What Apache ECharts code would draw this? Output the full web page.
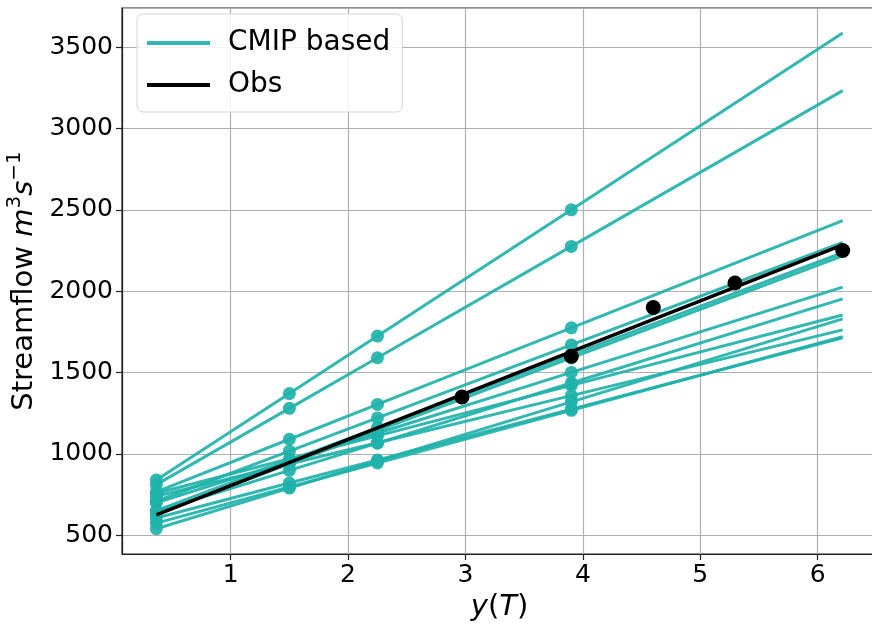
<!DOCTYPE html>
<html>
<head>
<meta charset="utf-8">
<script src="https://cdn.jsdelivr.net/npm/echarts@6/dist/echarts.min.js"></script>
<style>
html, body { margin: 0; padding: 0; background: #fff; }
#chart { width: 872px; height: 624px; }
</style>
</head>
<body>
<div id="chart"></div>
<script>
// reduced variate y(T) for T = 2, 5, 10, 50, 500
var xReturn = [0.3665, 1.4999, 2.2504, 3.9019, 6.2136];
// streamflow of each CMIP based fit at those x
var cmipLines = [
    [839, 1371, 1724, 2500, 3586],
    [811, 1280, 1591, 2275, 3232],
    [767, 1090, 1304, 1775, 2434],
    [709, 1017, 1221, 1670, 2299],
    [651, 958, 1162, 1609, 2236],
    [632, 939, 1143, 1590, 2217],
    [700, 957, 1127, 1501, 2025],
    [645, 899, 1066, 1436, 1953],
    [758, 970, 1111, 1421, 1854],
    [575, 797, 944, 1268, 1721],
    [740, 938, 1069, 1358, 1762],
    [606, 821, 963, 1275, 1713],
    [540, 790, 956, 1320, 1830]
];
// observed fit line end points and observed points
var obsLineX = [0.3665, 6.2136];
var obsLineY = [625, 2285];
var obsX = [2.9702, 3.9019, 4.6001, 5.2958, 6.2136];
var obsY = [1350, 1600, 1900, 2050, 2250];

var teal = 'rgba(32,178,170,0.92)';
var font = 'DejaVu Sans';

var dom = document.getElementById('chart');
var myChart = echarts.init(dom);
var option = null;

var series = [];
cmipLines.forEach(function (vals) {
    series.push({
        name: 'CMIP based',
        type: 'line',
        color: teal,
        lineStyle: { width: 3, color: teal },
        itemStyle: { color: teal },
        symbol: 'circle',
        symbolSize: 13,
        animation: false,
        z: 2,
        data: vals.map(function (v, i) {
            // no marker on the T=500 end
            if (i === xReturn.length - 1) return { value: [xReturn[i], v], symbol: 'none' };
            return [xReturn[i], v];
        })
    });
});
series.push({
    name: 'Obs',
    type: 'line',
    color: '#000',
    lineStyle: { width: 3.5, color: '#000' },
    showSymbol: false,
    symbol: 'none',
    animation: false,
    z: 3,
    data: obsLineX.map(function (x, i) { return [x, obsLineY[i]]; })
});
series.push({
    name: 'Obs points',
    type: 'scatter',
    symbolSize: 15,
    itemStyle: { color: '#000', opacity: 1 },
    animation: false,
    z: 4,
    data: obsX.map(function (x, i) { return [x, obsY[i]]; })
});

option = {
    backgroundColor: '#fff',
    textStyle: { fontFamily: font },
    grid: {
        left: 122,
        top: 8,
        right: -5,
        bottom: 70,
        outerBoundsMode: 'none',
        containLabel: false,
        show: true,
        borderColor: '#222',
        borderWidth: 1.2
    },
    legend: {
        data: ['CMIP based', 'Obs'],
        orient: 'vertical',
        left: 137,
        top: 14,
        icon: 'rect',
        itemWidth: 63,
        itemHeight: 4,
        itemGap: 14,
        padding: [15, 12, 13, 10],
        backgroundColor: 'rgba(255,255,255,0.85)',
        borderColor: '#d5d5d5',
        borderWidth: 1,
        borderRadius: 6,
        textStyle: { fontFamily: font, fontSize: 28, color: '#000', padding: [0, 0, 0, 13] }
    },
    xAxis: {
        type: 'value',
        min: 0.074,
        max: 6.506,
        name: '{i|y}{n|(}{i|T}{n|)}',
        nameLocation: 'middle',
        nameGap: 38,
        nameTextStyle: {
            rich: {
                i: { fontFamily: font, fontSize: 29, fontStyle: 'italic', color: '#000' },
                n: { fontFamily: font, fontSize: 29, color: '#000' }
            }
        },
        axisLine: { show: true, lineStyle: { color: '#222', width: 1.2 } },
        axisTick: { show: true, length: 6, lineStyle: { color: '#222', width: 1.2 } },
        axisLabel: {
            fontFamily: font, fontSize: 25, color: '#000', margin: 9,
            showMinLabel: false, showMaxLabel: false,
            formatter: function (v) { return Math.abs(v - Math.round(v)) < 1e-6 ? String(v) : ''; }
        },
        splitLine: { show: true, lineStyle: { color: '#b0b0b0', width: 1.2 } }
    },
    yAxis: {
        type: 'value',
        min: 385,
        max: 3740,
        name: '{n|Streamflow }{i|m}{s|3}{i|s}{s|−1}',
        nameLocation: 'middle',
        nameGap: 70,
        nameRotate: 90,
        nameTextStyle: {
            rich: {
                n: { fontFamily: font, fontSize: 29, color: '#000', lineHeight: 38 },
                i: { fontFamily: font, fontSize: 29, fontStyle: 'italic', color: '#000', lineHeight: 38 },
                s: { fontFamily: font, fontSize: 20, color: '#000', verticalAlign: 'top', lineHeight: 38 }
            }
        },
        axisLine: { show: true, lineStyle: { color: '#222', width: 1.2 } },
        axisTick: { show: true, length: 6, lineStyle: { color: '#222', width: 1.2 } },
        axisLabel: {
            fontFamily: font, fontSize: 25, color: '#000', margin: 9,
            showMinLabel: false, showMaxLabel: false,
            formatter: function (v) { return v % 500 === 0 ? String(v) : ''; }
        },
        splitLine: { show: true, lineStyle: { color: '#b0b0b0', width: 1.2 } }
    },
    series: series
};

if (option && typeof option === "object") {
    myChart.setOption(option, true);
}
</script>
</body>
</html>
